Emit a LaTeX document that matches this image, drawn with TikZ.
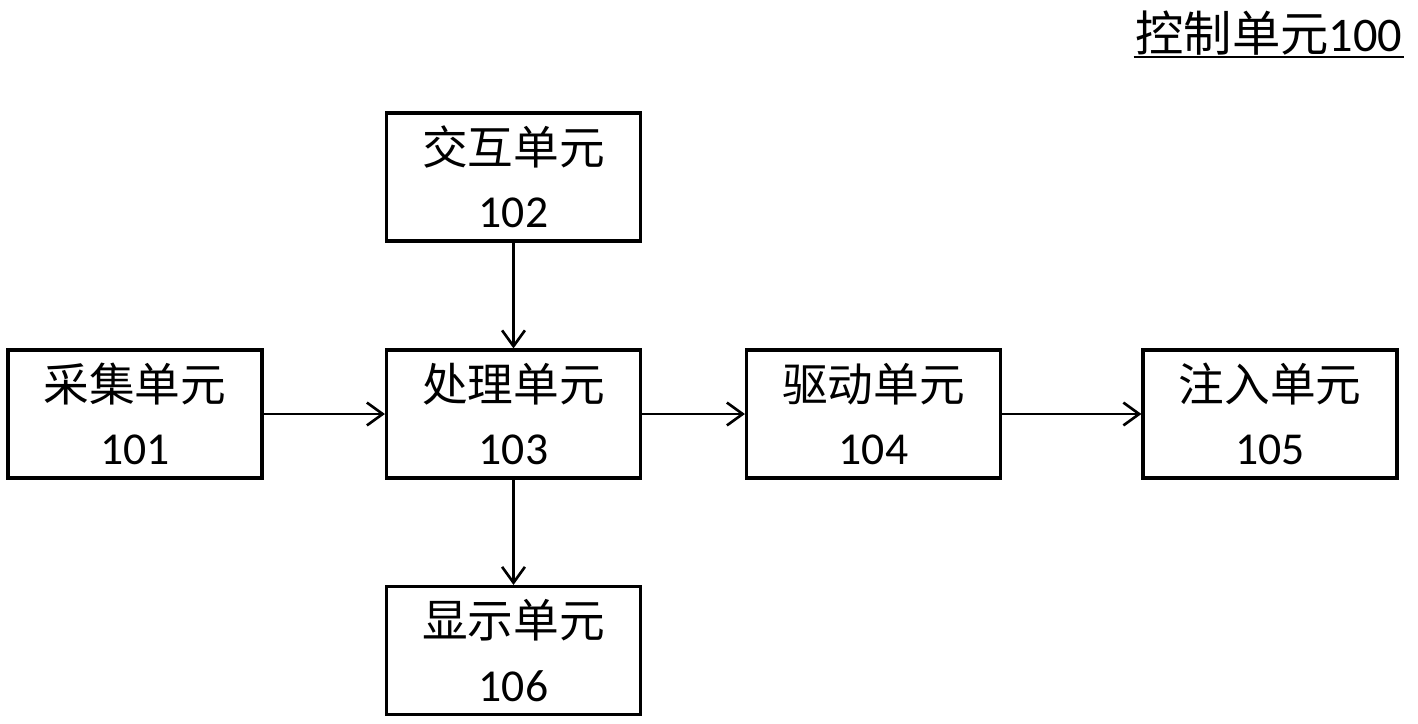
\documentclass[tikz,border=0pt]{standalone}
\usepackage{fontspec}
\setmainfont{Carlito}
\newfontfamily\cjk{Noto Sans CJK SC}
\usetikzlibrary{arrows.meta,positioning}

\begin{document}
\begin{tikzpicture}[x=0.02cm,y=-0.02cm,
  unit/.style={draw=black,line width=1.8pt,minimum width=5.08cm,minimum height=2.56cm,
    inner sep=0pt,align=center,font=\fontsize{26}{36}\selectfont},
  flow/.style={line width=1.5pt,-{Straight Barb[length=9pt,width=13pt,line width=1.5pt]}}]
\useasboundingbox (0,0) rectangle (1418,724);

\node[unit] (u102) at (513.5,177) {{\cjk 交互单元}\\102};
\node[unit] (u101) at (135,414)   {{\cjk 采集单元}\\101};
\node[unit] (u103) at (513.5,414) {{\cjk 处理单元}\\103};
\node[unit] (u104) at (873.5,414) {{\cjk 驱动单元}\\104};
\node[unit] (u105) at (1270,414)  {{\cjk 注入单元}\\105};
\node[unit] (u106) at (513.5,650.5) {{\cjk 显示单元}\\106};

\node[inner sep=1pt,font=\fontsize{27.5}{30}\selectfont] (ctrl) at (1269,33) {{\cjk 控制单元}100};
\draw[line width=1.2pt] (ctrl.south west) -- (ctrl.south east);

\draw[flow] (u102) -- (u103);
\draw[flow] (u101) -- (u103);
\draw[flow] (u103) -- (u104);
\draw[flow] (u104) -- (u105);
\draw[flow] (u103) -- (u106);
\end{tikzpicture}
\end{document}
